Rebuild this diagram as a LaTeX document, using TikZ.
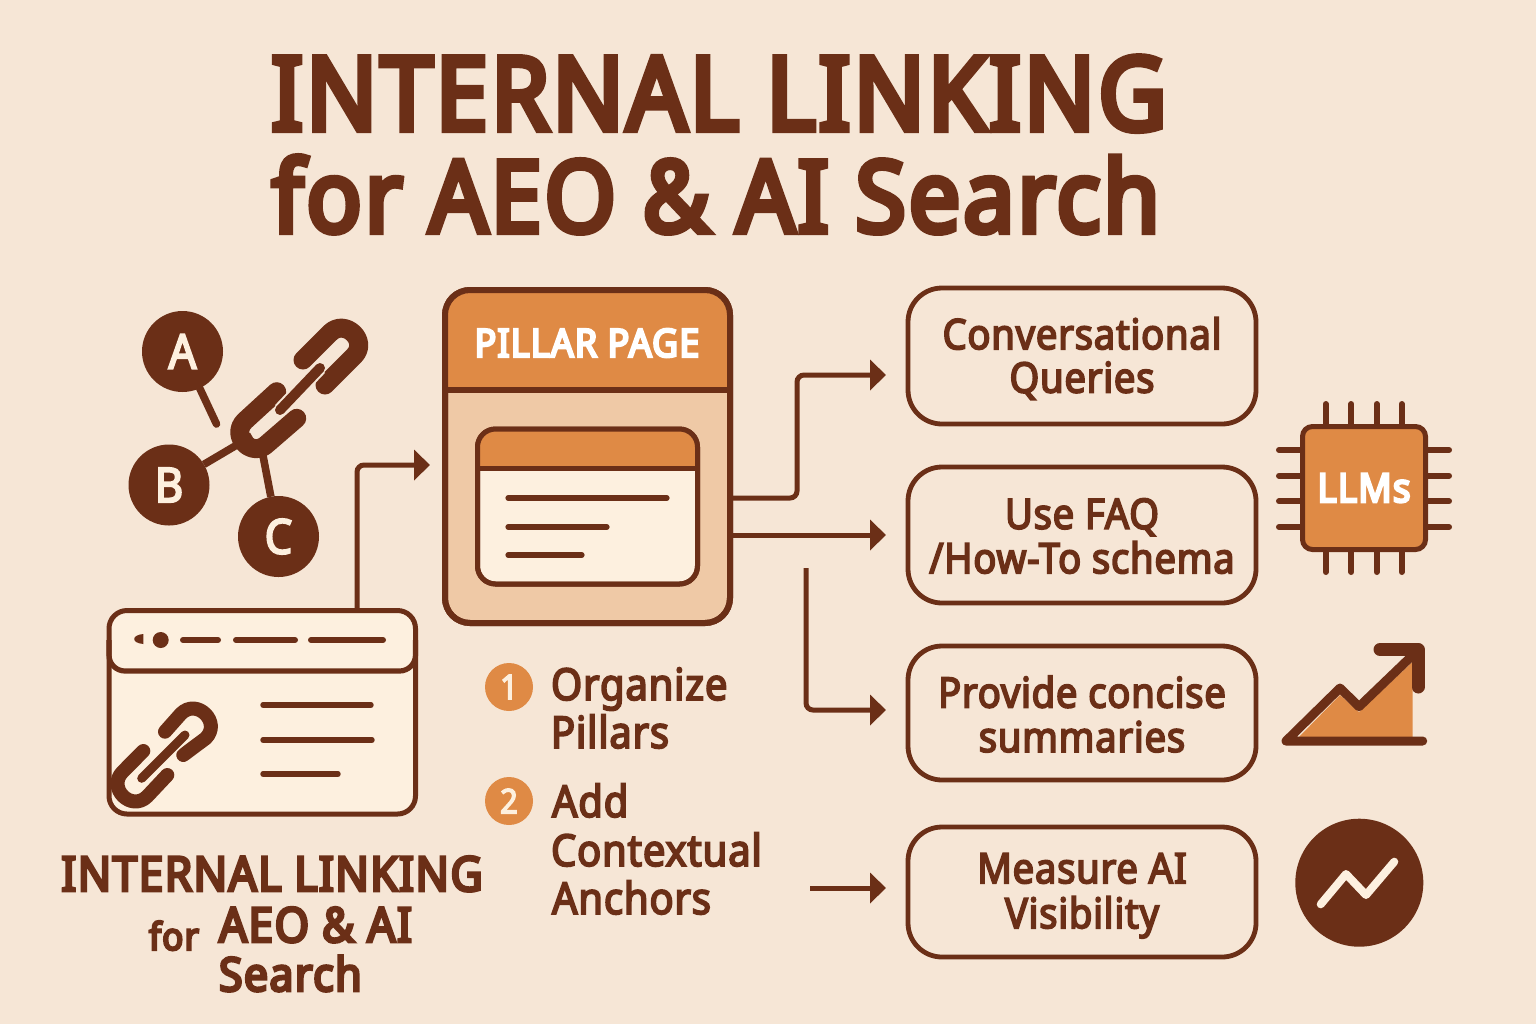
\documentclass[tikz,border=0pt]{standalone}
\usepackage{fontspec}
\setmainfont{Noto Sans}[FakeStretch=0.92,LetterSpace=3,FakeBold=6]
\newfontfamily\semif{Noto Sans}[FakeStretch=0.91,LetterSpace=1.8,FakeBold=4]
\usetikzlibrary{arrows.meta}
\definecolor{bgc}{HTML}{F6E6D6}
\definecolor{darkc}{HTML}{6B2F17}
\definecolor{orangec}{HTML}{DF8A45}
\definecolor{bodyc}{HTML}{EFC9A6}
\definecolor{creamc}{HTML}{FDF0DF}
\newcommand{\fs}[1]{\fontsize{#1}{#1}\selectfont}
\newcommand{\fm}[1]{\fontsize{#1}{22.2}\selectfont\semif}
\newcommand{\nudge}[2]{\raisebox{-#1}[\height][\depth]{#2}}
\tikzset{
  ink/.style={draw=darkc,line cap=round,line join=round},
  txt/.style={text=darkc,inner sep=0pt,outer sep=0pt},
  arr/.style={draw=darkc,line width=2.5pt,rounded corners=3.5pt,-{Triangle[length=8pt,width=15pt]}},
  letterdot/.style={circle,fill=darkc,text=creamc,minimum size=40.5pt,inner sep=0pt,outer sep=0pt,font=\fm{24}},
  numdot/.style={circle,fill=orangec,text=creamc,minimum size=24pt,inner sep=0pt,outer sep=0pt,font=\fm{17}},
  qbox/.style={draw=darkc,line width=2.4pt,fill=bgc,rounded corners=17pt,minimum width=174pt,inner sep=0pt,outer sep=0pt,text=darkc,align=center,font=\fm{21}},
  pin/.style={ink,line width=3pt},
}
\begin{document}
\begin{tikzpicture}[x=0.5pt,y=-0.5pt]
\useasboundingbox (0,0) rectangle (1536,1024);
\fill[bgc] (0,0) rectangle (1536,1024);
% Title
\node[txt,anchor=base,font=\fs{51}] (t1) at (719,130) {INTERNAL LINKING};
\node[txt,anchor=base,font=\fs{49.7}] (t2) at (716,232) {for AEO \& AI Search};
% A B C chain
\node[letterdot] (A) at (182.5,351.5) {A};
\node[letterdot] (B) at (169,485) {B};
\node[letterdot] (C) at (278.5,536.5) {C};
\coordinate (Aend) at (216.5,424);
\coordinate (hub) at (252,436);
\draw[ink,line width=3.8pt] (A) -- (Aend);
\draw[darkc,line width=3.8pt] (B) -- (hub);
\draw[darkc,line width=3.8pt] (C) -- (260,440);
\draw[ink,line width=9.5pt] (303,360) -- (330,333) .. controls (345,318) and (369,341) .. (354,356) -- (325,385);
\draw[ink,line width=9.5pt] (276.7,391.7) -- (244.7,421) .. controls (229.7,436) and (252.3,458.7) .. (267.3,443.7) -- (296.7,418.3);
\draw[bgc,line width=7pt] (280,410) -- (320,368);
\draw[ink,line width=5pt] (280,410) -- (320,368);
% Browser window
\node[draw=darkc,line width=2.5pt,fill=creamc,rounded corners=9pt,minimum width=153.25pt,minimum height=101.75pt,inner sep=0pt,outer sep=0pt] (win) at (262.25,712.25) {};
\draw[darkc,line width=2.6pt,rounded corners=8pt] (109,640) -- (109,671) -- (415.5,671) -- (415.5,640);
\fill[darkc] (143.3,634) .. controls (137,634.5) and (134,637) .. (134.3,639) .. controls (134,641) and (137,643.5) .. (143.3,644) -- cycle;
\fill[darkc] (160.7,640) circle[radius=8];
\draw[ink,line width=3pt] (183,640) -- (218,640) (236,640) -- (295,640) (311,640) -- (383,640);
\draw[ink,line width=2.7pt] (263,705) -- (371,705) (263,740) -- (372,740) (263,774) -- (338,774);
\draw[ink,line width=7pt] (143.3,751) -- (122.7,771.7) .. controls (106.7,787.7) and (131.3,812.3) .. (147.3,796.3) -- (167.3,775);
\draw[ink,line width=7pt] (165,731.7) -- (181,713.7) .. controls (197,697.7) and (221.7,722.3) .. (205.7,738.3) -- (183.3,755);
\draw[creamc,line width=6pt] (141.7,778.3) -- (185,735);
\draw[ink,line width=4.5pt] (141.7,778.3) -- (185,735);
% Pillar page
\node[draw=darkc,line width=3pt,fill=bodyc,rounded corners=12.5pt,minimum width=142.5pt,minimum height=166.5pt,inner sep=0pt,outer sep=0pt] (pillar) at (587.5,456.5) {};
\begin{scope}
\clip[rounded corners=12.5pt] (445,290) rectangle (730,623);
\fill[orangec] (445,290) rectangle (730,390);
\end{scope}
\draw[darkc,line width=3pt,rounded corners=12.5pt] (445,290) rectangle (730,623);
\draw[darkc,line width=3pt] (445,390) -- (730,390);
\node[txt,text=white,font=\fs{19.5}] (ptitle) at (587,343) {PILLAR PAGE};
\node[draw=darkc,line width=2.5pt,fill=creamc,rounded corners=9pt,minimum width=110pt,minimum height=77.5pt,inner sep=0pt,outer sep=0pt] (inner) at (587.5,506.5) {};
\begin{scope}
\clip[rounded corners=9pt] (477.5,429) rectangle (697.5,584);
\fill[orangec] (477.5,429) rectangle (697.5,468);
\end{scope}
\draw[darkc,line width=2.5pt,rounded corners=9pt] (477.5,429) rectangle (697.5,584);
\draw[darkc,line width=2.5pt] (477.5,468) -- (697.5,468);
\draw[ink,line width=2.6pt] (508,498) -- (667,498) (508,527) -- (607,527) (508,555) -- (582,555);
% Steps
\node[numdot] (n1) at (509,687) {1};
\node[numdot] (n2) at (509,801) {2};
\node[txt,anchor=base west,font=\fm{22}] (s1a) at (551,700) {Organize};
\node[txt,anchor=base west,font=\fm{22}] (s1b) at (551,748) {Pillars};
\node[txt,anchor=base west,font=\fm{22}] (s2a) at (552,817) {Add};
\node[txt,anchor=base west,font=\fm{22}] (s2b) at (551,866) {Contextual};
\node[txt,anchor=base west,font=\fm{22}] (s2c) at (552,914) {Anchors};
% Bottom label
\node[txt,anchor=base,font=\fs{24}] (b1) at (272,891) {INTERNAL LINKING};
\node[txt,anchor=base,font=\fs{19}] (b2) at (174,950) {for};
\node[txt,anchor=base west,font=\fs{24}] (b3) at (219,942) {AEO \& AI};
\node[txt,anchor=base west,font=\fs{23.3}] (b4) at (219,991) {Search};
% Right boxes
\node[qbox,minimum height=68pt] (q1) at (1082,356) {\nudge{1.5pt}{Conversational}\\\nudge{1pt}{Queries}};
\node[qbox,minimum height=68pt] (q2) at (1082,535) {\nudge{.5pt}{Use FAQ}\\\nudge{.5pt}{/How-To schema}};
\node[qbox,minimum height=67pt] (q3) at (1082,713) {\nudge{.5pt}{Provide concise}\\\nudge{.5pt}{summaries}};
\node[qbox,minimum height=65pt] (q4) at (1082,892) {\nudge{1.7pt}{Measure AI}\\\nudge{2pt}{Visibility}};
% Connectors
\draw[arr] ([yshift=-20.75pt]pillar.east) -- ++(67,0) |- ([xshift=-11pt,yshift=-9.5pt]q1.west);
\draw[arr] (pillar.east |- q2.west) -- ([xshift=-11pt]q2.west);
\coordinate (c3) at (806,568);
\draw[arr] (c3) |- ([xshift=-11pt,yshift=1.5pt]q3.west);
\coordinate (c4) at (810,888);
\draw[arr] (c4) -- ([xshift=-11pt,yshift=2pt]q4.west);
\coordinate (wintop) at (357,610);
\coordinate (pinl) at (430,465);
\draw[arr] (wintop) |- (pinl);
% Chip
\foreach \x in {1325.7,1351.3,1376.7,1401.7}{\draw[pin] (\x,404) -- (\x,572);}
\foreach \y in {450,475.7,501.3,527}{\draw[pin] (1279,\y) -- (1449,\y);}
\node[draw=darkc,line width=2.5pt,fill=orangec,rounded corners=5pt,minimum size=61.5pt,inner sep=0pt,outer sep=0pt,text=white,font=\fs{20}] (chip) at (1364,488) {LLMs};
% Trend icon
\fill[orangec] (1298,738) -- (1340,695) -- (1359,712) -- (1412.7,661.7) -- (1412.7,738) -- cycle;
\draw[ink,line width=4.5pt] (1416,652) -- (1359,706.7) -- (1340,688) -- (1286,741) -- (1422.7,741);
\draw[ink,line width=6.5pt] (1380,649.5) -- (1418,649.5) -- (1418,687);
% Measure icon
\node[circle,fill=darkc,minimum size=64pt,inner sep=0pt,outer sep=0pt] (mcirc) at (1359.3,882.7) {};
\draw[draw=creamc,line width=4pt,line cap=round,line join=round] (1320.7,904.3) -- (1346,874) -- (1366,895) -- (1394.3,861.7);
\end{tikzpicture}
\end{document}
